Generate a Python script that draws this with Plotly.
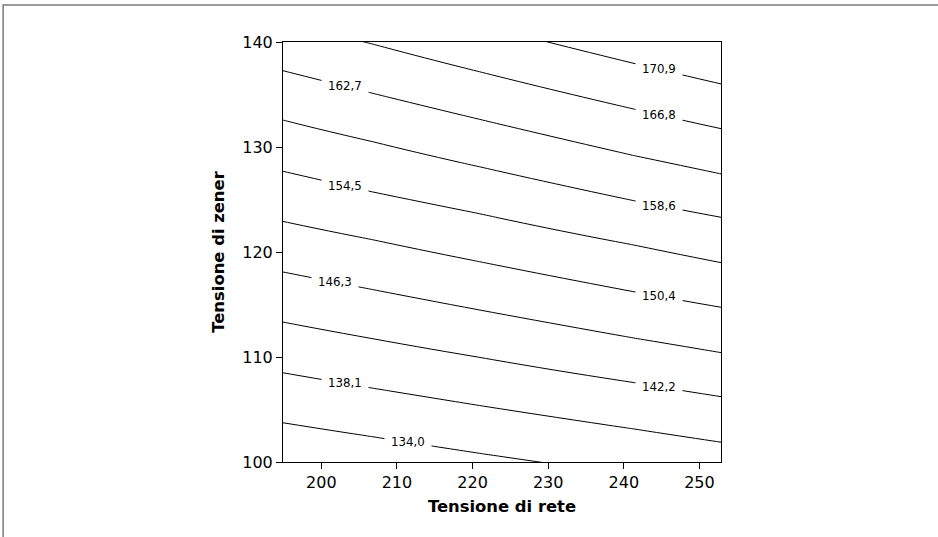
import numpy as np
import plotly.graph_objects as go

# x positions (Tensione di rete) where each contour level was read
x_cols = [194.9, 206.65, 220.9, 241.3, 252.9]
levels = [134.0, 138.1, 142.2, 146.3, 150.4, 154.5, 158.6, 162.7, 166.8, 170.9]
# y (Tensione di zener) of each contour level at each x column
y_134_0 = [103.74, 102.42, 100.83, 98.73, 97.52]
y_138_1 = [108.50, 107.05, 105.38, 103.15, 101.88]
y_142_2 = [113.33, 111.76, 109.97, 107.57, 106.22]
y_146_3 = [118.10, 116.44, 114.48, 111.81, 110.41]
y_150_4 = [122.92, 121.19, 119.08, 116.22, 114.73]
y_154_5 = [127.69, 125.74, 123.65, 120.67, 118.98]
y_158_6 = [132.57, 130.53, 128.12, 124.89, 123.30]
y_162_7 = [137.27, 135.14, 132.64, 129.19, 127.43]
y_166_8 = [142.03, 139.83, 137.17, 133.62, 131.74]
y_170_9 = [146.40, 144.24, 141.67, 137.97, 136.00]
# x position of each level's label
label_x = [211.5, 203.15, 244.67, 201.76, 244.67, 203.15, 244.67, 203.15, 244.67, 244.67]

x_ticks = [200, 210, 220, 230, 240, 250]
y_ticks = [100, 110, 120, 130, 140]

level_lines = [y_134_0, y_138_1, y_142_2, y_146_3, y_150_4,
               y_154_5, y_158_6, y_162_7, y_166_8, y_170_9]

# Build the z grid from the read contour positions (column-wise interpolation)
y_grid = np.arange(98.0, 142.01, 0.25)
Z = np.zeros((len(y_grid), len(x_cols)))
for j in range(len(x_cols)):
    ys = np.array([ln[j] for ln in level_lines])
    zs = np.array(levels)
    col = np.interp(y_grid, ys, zs)
    lo_slope = (zs[1] - zs[0]) / (ys[1] - ys[0])
    hi_slope = (zs[-1] - zs[-2]) / (ys[-1] - ys[-2])
    below = y_grid < ys[0]
    above = y_grid > ys[-1]
    col[below] = zs[0] + (y_grid[below] - ys[0]) * lo_slope
    col[above] = zs[-1] + (y_grid[above] - ys[-1]) * hi_slope
    Z[:, j] = col

fig = go.Figure()
fig.add_trace(go.Contour(
    x=x_cols, y=y_grid, z=Z,
    contours=dict(start=levels[0], end=levels[-1] + 0.05, size=4.1,
                  coloring="lines", showlabels=False),
    colorscale=[[0, "black"], [1, "black"]],
    line=dict(width=1),
    showscale=False, hoverinfo="skip",
))

# Labels placed on their lines
for lv, ln, lx in zip(levels, level_lines, label_x):
    ly = float(np.interp(lx, x_cols, ln))
    fig.add_annotation(
        x=lx, y=ly, text=f"{lv:.1f}".replace(".", ","),
        showarrow=False, bgcolor="white", borderpad=6,
        font=dict(family="DejaVu Sans", size=11.8, color="black"),
    )

fig.add_shape(type="rect", xref="paper", yref="paper",
              x0=-0.639, x1=1.55, y0=-0.25, y1=1.088,
              line=dict(color="#7a7a7a", width=1.5), layer="below")

axis_common = dict(showline=True, linecolor="black", linewidth=1, mirror=True,
                   ticks="outside", ticklen=6, tickcolor="black",
                   showgrid=False, zeroline=False,
                   tickfont=dict(family="DejaVu Sans", size=16, color="black"))

fig.update_xaxes(range=[194.93, 252.85], tickvals=x_ticks,
                 title=dict(text="<b>Tensione di rete</b>", standoff=9,
                            font=dict(family="DejaVu Sans", size=16.4, color="black")),
                 **axis_common)
fig.update_yaxes(range=[100, 140], tickvals=y_ticks,
                 title=dict(text="<b>Tensione di zener</b>", standoff=13,
                            font=dict(family="DejaVu Sans", size=16.4, color="black")),
                 **axis_common)

fig.update_layout(
    width=938, height=537,
    margin=dict(l=283, r=217, t=42, b=75, autoexpand=False),
    paper_bgcolor="white", plot_bgcolor="white",
    separators=",.",
    showlegend=False,
)

fig.write_html("out.html",
               config={"displayModeBar": False},
               post_script="document.body.style.margin='0px';"
                           "document.body.style.overflow='hidden';")
